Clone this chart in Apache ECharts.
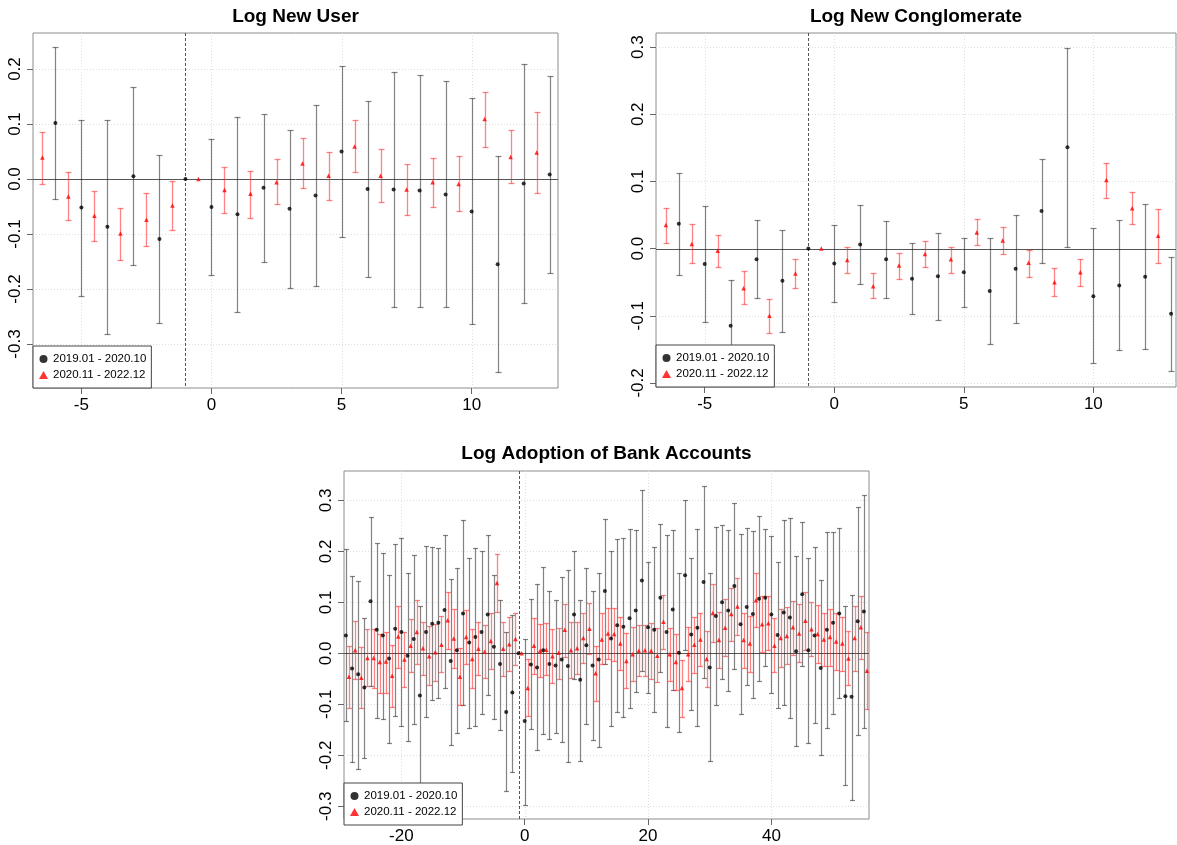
<!DOCTYPE html>
<html>
<head>
<meta charset="utf-8">
<title>Event study estimates</title>
<script src="https://cdn.jsdelivr.net/npm/echarts@6/dist/echarts.min.js"></script>
<style>
  html, body { margin: 0; padding: 0; background: #fff; }
  #chart { width: 1177px; height: 845px; }
</style>
</head>
<body>
<div id="chart"></div>
<script>
// ---- data (estimate, upper and lower CI) ----
var legendNames = ['2019.01 - 2020.10', '2020.11 - 2022.12'];
var refPeriod = -1;

// Log New User
var userBlackPeriods = [-6, -5, -4, -3, -2, -1, 0, 1, 2, 3, 4, 5, 6, 7, 8, 9, 10, 11, 12, 13];
var userBlackEst = [0.102, -0.052, -0.087, 0.005, -0.109, 0, -0.051, -0.064, -0.016, -0.054, -0.030, 0.050, -0.018, -0.019, -0.021, -0.028, -0.059, -0.155, -0.008, 0.008];
var userBlackHi  = [0.240, 0.107, 0.108, 0.167, 0.044, null, 0.073, 0.112, 0.119, 0.090, 0.134, 0.206, 0.141, 0.194, 0.190, 0.178, 0.147, 0.041, 0.210, 0.187];
var userBlackLo  = [-0.036, -0.212, -0.282, -0.157, -0.262, null, -0.175, -0.242, -0.151, -0.198, -0.194, -0.106, -0.178, -0.233, -0.232, -0.233, -0.264, -0.350, -0.226, -0.170];
var userRedPeriods = [-7, -6, -5, -4, -3, -2, -1, 0, 1, 2, 3, 4, 5, 6, 7, 8, 9, 10, 11, 12];
var userRedEst = [0.039, -0.032, -0.067, -0.099, -0.074, -0.048, 0, -0.020, -0.027, -0.006, 0.028, 0.006, 0.059, 0.006, -0.019, -0.006, -0.009, 0.109, 0.040, 0.048];
var userRedHi  = [0.086, 0.012, -0.021, -0.052, -0.026, -0.004, null, 0.021, 0.015, 0.036, 0.074, 0.050, 0.107, 0.054, 0.027, 0.039, 0.041, 0.158, 0.089, 0.122];
var userRedLo  = [-0.009, -0.075, -0.112, -0.147, -0.121, -0.092, null, -0.061, -0.070, -0.046, -0.017, -0.039, 0.012, -0.042, -0.066, -0.050, -0.059, 0.059, -0.008, -0.026];
var userXTicks = [-5, 0, 5, 10];
var userYTicks = [-0.3, -0.2, -0.1, 0, 0.1, 0.2];

// Log New Conglomerate
var congBlackPeriods = [-6, -5, -4, -3, -2, -1, 0, 1, 2, 3, 4, 5, 6, 7, 8, 9, 10, 11, 12, 13];
var congBlackEst = [0.037, -0.023, -0.115, -0.016, -0.048, 0, -0.022, 0.006, -0.016, -0.045, -0.041, -0.035, -0.063, -0.030, 0.056, 0.151, -0.071, -0.055, -0.042, -0.097];
var congBlackHi  = [0.113, 0.064, -0.046, 0.042, 0.027, null, 0.035, 0.065, 0.041, 0.009, 0.024, 0.016, 0.016, 0.050, 0.134, 0.299, 0.030, 0.042, 0.066, -0.013];
var congBlackLo  = [-0.039, -0.109, -0.185, -0.073, -0.124, null, -0.079, -0.053, -0.073, -0.098, -0.106, -0.087, -0.142, -0.110, -0.022, 0.003, -0.171, -0.151, -0.149, -0.182];
var congRedPeriods = [-7, -6, -5, -4, -3, -2, -1, 0, 1, 2, 3, 4, 5, 6, 7, 8, 9, 10, 11, 12];
var congRedEst = [0.035, 0.007, -0.003, -0.059, -0.100, -0.037, 0, -0.017, -0.056, -0.025, -0.008, -0.016, 0.024, 0.012, -0.021, -0.050, -0.035, 0.102, 0.060, 0.019];
var congRedHi  = [0.061, 0.036, 0.021, -0.033, -0.075, -0.016, null, 0.002, -0.037, -0.006, 0.012, 0.003, 0.044, 0.032, -0.002, -0.029, -0.015, 0.128, 0.084, 0.059];
var congRedLo  = [0.009, -0.021, -0.027, -0.083, -0.126, -0.058, null, -0.036, -0.074, -0.045, -0.027, -0.036, 0.005, -0.008, -0.042, -0.070, -0.055, 0.076, 0.036, -0.022];
var congXTicks = [-5, 0, 5, 10];
var congYTicks = [-0.2, -0.1, 0, 0.1, 0.2, 0.3];

// Log Adoption of Bank Accounts
var bankPeriods = [-29, -28, -27, -26, -25, -24, -23, -22, -21, -20, -19, -18, -17, -16, -15, -14, -13, -12, -11, -10,
  -9, -8, -7, -6, -5, -4, -3, -2, -1, 0, 1, 2, 3, 4, 5, 6, 7, 8, 9, 10, 11, 12, 13, 14, 15, 16, 17, 18, 19, 20,
  21, 22, 23, 24, 25, 26, 27, 28, 29, 30, 31, 32, 33, 34, 35, 36, 37, 38, 39, 40, 41, 42, 43, 44, 45, 46, 47, 48, 49, 50,
  51, 52, 53, 54, 55];
var bankBlackEst = [0.035, -0.030, -0.041, -0.067, 0.102, 0.046, 0.035, -0.010, 0.048, 0.042, -0.005, 0.028, -0.083, 0.042, 0.058, 0.060, 0.085, -0.015, 0.006, 0.078,
  0.021, 0.032, 0.042, 0.076, 0.013, -0.021, -0.115, -0.077, 0, -0.133, -0.022, -0.028, 0.006, -0.021, -0.024, -0.012, -0.025, 0.076, -0.052, 0.016,
  -0.024, -0.012, 0.122, 0.029, 0.055, 0.052, 0.069, 0.084, 0.143, 0.051, 0.046, 0.109, 0.042, 0.086, 0.001, 0.153, 0.037, 0.050, 0.140, -0.028,
  0.073, 0.100, 0.084, 0.132, 0.057, 0.091, 0.077, 0.107, 0.109, 0.076, 0.036, 0.080, 0.070, 0.004, 0.116, 0.006, 0.035, -0.029, 0.046, 0.060,
  0.078, -0.084, -0.085, 0.063, 0.082];
var bankBlackHi = [0.204, 0.151, 0.142, 0.070, 0.268, 0.217, 0.197, 0.154, 0.215, 0.226, 0.157, 0.193, 0.093, 0.210, 0.209, 0.206, 0.233, 0.145, 0.167, 0.261,
  0.187, 0.206, 0.200, 0.232, 0.154, 0.104, 0.041, 0.075, null, 0.029, 0.106, 0.135, 0.170, 0.122, 0.104, 0.150, 0.164, 0.200, 0.104, 0.168,
  0.122, 0.158, 0.264, 0.200, 0.224, 0.226, 0.243, 0.241, 0.320, 0.180, 0.208, 0.253, 0.232, 0.241, 0.157, 0.301, 0.186, 0.243, 0.328, 0.158,
  0.248, 0.251, 0.241, 0.295, 0.234, 0.245, 0.239, 0.270, 0.244, 0.230, 0.179, 0.262, 0.266, 0.190, 0.257, 0.187, 0.208, 0.143, 0.237, 0.237,
  0.245, 0.092, 0.115, 0.287, 0.311];
var bankBlackLo = [-0.133, -0.213, -0.226, -0.205, -0.065, -0.127, -0.129, -0.176, -0.122, -0.142, -0.172, -0.139, -0.259, -0.124, -0.091, -0.087, -0.068, -0.179, -0.156, -0.102,
  -0.147, -0.143, -0.120, -0.082, -0.128, -0.150, -0.271, -0.232, null, -0.297, -0.149, -0.189, -0.158, -0.168, -0.156, -0.174, -0.214, -0.051, -0.212, -0.138,
  -0.170, -0.183, -0.021, -0.143, -0.116, -0.124, -0.107, -0.075, -0.034, -0.077, -0.116, -0.036, -0.145, -0.071, -0.154, 0.006, -0.112, -0.143, -0.048, -0.212,
  -0.101, -0.050, -0.074, -0.030, -0.120, -0.062, -0.087, -0.055, -0.024, -0.078, -0.107, -0.101, -0.127, -0.182, -0.025, -0.175, -0.137, -0.200, -0.147, -0.119,
  -0.088, -0.258, -0.287, -0.160, -0.146];
var bankRedEst = [-0.046, 0.006, -0.048, -0.009, -0.009, -0.017, -0.016, -0.044, 0.033, -0.012, 0.015, 0.042, 0.010, -0.006, 0.002, 0.017, 0.065, 0.029, -0.046, 0.032,
  -0.011, 0.009, 0.003, 0.024, 0.138, 0.009, 0.018, 0.028, 0, -0.068, 0.015, 0.005, 0.007, -0.006, 0.001, 0.046, 0.006, 0.010, 0.030, 0.048,
  -0.039, 0.027, 0.039, 0.038, 0.019, -0.015, -0.002, 0.005, 0.006, 0.005, -0.005, 0.062, -0.002, -0.017, -0.068, -0.002, 0.017, 0.027, -0.011, 0.079,
  0.026, 0.050, 0.077, 0.092, 0.026, 0.019, 0.104, 0.057, 0.059, 0.015, 0.030, 0.034, 0.051, 0.039, 0.064, 0.047, 0.038, 0.027, 0.032, 0.023,
  0.019, -0.010, 0.030, 0.051, -0.034];
var bankRedHi = [0.015, 0.064, 0.012, 0.048, 0.047, 0.038, 0.042, 0.017, 0.092, 0.042, 0.068, 0.105, 0.062, 0.053, 0.057, 0.073, 0.120, 0.086, 0.010, 0.084,
  0.048, 0.061, 0.055, 0.079, 0.194, 0.062, 0.071, 0.079, null, -0.012, 0.069, 0.057, 0.059, 0.048, 0.050, 0.096, 0.061, 0.061, 0.079, 0.098,
  0.015, 0.080, 0.089, 0.089, 0.071, 0.039, 0.052, 0.056, 0.056, 0.060, 0.049, 0.115, 0.050, 0.037, -0.014, 0.052, 0.071, 0.080, 0.044, 0.136,
  0.082, 0.106, 0.129, 0.148, 0.079, 0.074, 0.158, 0.113, 0.112, 0.069, 0.087, 0.091, 0.103, 0.097, 0.120, 0.100, 0.094, 0.080, 0.086, 0.079,
  0.072, 0.044, 0.093, 0.112, 0.042];
var bankRedLo = [-0.107, -0.050, -0.107, -0.064, -0.068, -0.077, -0.077, -0.106, -0.028, -0.067, -0.036, -0.021, -0.043, -0.062, -0.054, -0.037, 0.009, -0.028, -0.102, -0.020,
  -0.068, -0.043, -0.049, -0.030, 0.081, -0.044, -0.034, -0.023, null, -0.123, -0.040, -0.047, -0.043, -0.059, -0.050, -0.007, -0.048, -0.041, -0.019, -0.002,
  -0.093, -0.021, -0.012, -0.015, -0.032, -0.068, -0.055, -0.044, -0.044, -0.050, -0.057, 0.008, -0.054, -0.072, -0.124, -0.054, -0.039, -0.024, -0.066, 0.022,
  -0.029, -0.005, 0.025, 0.035, -0.028, -0.037, 0.051, 0.003, 0.007, -0.037, -0.026, -0.021, -0.004, -0.018, 0.007, -0.006, -0.019, -0.024, -0.025, -0.033,
  -0.035, -0.063, -0.034, -0.012, -0.110];
var bankXTicks = [-20, 0, 20, 40];
var bankYTicks = [-0.3, -0.2, -0.1, 0, 0.1, 0.2, 0.3];

// ---- layout / style ----
var FONT = '"Liberation Sans", Arial, sans-serif';
var DODGE = 0.5;           // red group drawn half a period to the right
var BLACK_BAR = 'rgba(30,30,30,0.55)';
var RED_BAR = 'rgba(255,30,30,0.55)';

var panels = [
  { title: 'Log New User', grid: { left: 33, top: 33, width: 525, height: 355 },
    x: [-6.86, 13.32], y: [-0.38, 0.2655], xTicks: userXTicks, yTicks: userYTicks,
    black: [userBlackPeriods, userBlackEst, userBlackLo, userBlackHi],
    red: [userRedPeriods, userRedEst, userRedLo, userRedHi], titleY: 17 },
  { title: 'Log New Conglomerate', grid: { left: 656, top: 33, width: 520, height: 354 },
    x: [-6.88, 13.19], y: [-0.206, 0.321], xTicks: congXTicks, yTicks: congYTicks,
    black: [congBlackPeriods, congBlackEst, congBlackLo, congBlackHi],
    red: [congRedPeriods, congRedEst, congRedLo, congRedHi], titleY: 17 },
  { title: 'Log Adoption of Bank Accounts', grid: { left: 344, top: 471, width: 525, height: 354 },
    x: [-29.3, 55.83], y: [-0.325, 0.3576], xTicks: bankXTicks, yTicks: bankYTicks,
    black: [bankPeriods, bankBlackEst, bankBlackLo, bankBlackHi],
    red: [bankPeriods, bankRedEst, bankRedLo, bankRedHi], titleY: 454 }
];

function ciData(cols, shift) {
  var out = [];
  for (var i = 0; i < cols[0].length; i++) {
    if (cols[2][i] == null || cols[3][i] == null) continue;
    out.push([cols[0][i] + shift, cols[2][i], cols[3][i]]);
  }
  return out;
}
function pointData(cols, shift) {
  return cols[0].map(function (p, i) { return [p + shift, cols[1][i]]; });
}

function barRenderer(color, cap, width) {
  return function (params, api) {
    var x = api.value(0);
    var top = api.coord([x, api.value(2)]);
    var bot = api.coord([x, api.value(1)]);
    var px = Math.round(top[0]) + 0.5;
    var st = { stroke: color, lineWidth: width, fill: null };
    var ty = Math.round(top[1]) + 0.5, by = Math.round(bot[1]) + 0.5;
    return { type: 'group', children: [
      { type: 'line', shape: { x1: px, y1: ty, x2: px, y2: by }, style: st },
      { type: 'line', shape: { x1: px - cap, y1: ty, x2: px + cap, y2: ty }, style: st },
      { type: 'line', shape: { x1: px - cap, y1: by, x2: px + cap, y2: by }, style: st }
    ] };
  };
}
// full-height / full-width lines (grid, zero line, reference period)
function vLine(color, dash) {
  return function (params, api) {
    var cs = params.coordSys;
    var px = Math.round(api.coord([api.value(0), api.value(1)])[0]) + 0.5;
    return { type: 'line', shape: { x1: px, y1: cs.y, x2: px, y2: cs.y + cs.height },
      style: { stroke: color, lineWidth: 1, lineDash: dash } };
  };
}
function hLine(color, dash) {
  return function (params, api) {
    var cs = params.coordSys;
    var py = Math.round(api.coord([api.value(0), api.value(1)])[1]) + 0.5;
    return { type: 'line', shape: { x1: cs.x, y1: py, x2: cs.x + cs.width, y2: py },
      style: { stroke: color, lineWidth: 1, lineDash: dash } };
  };
}

var option = {
  backgroundColor: '#fff',
  animation: false,
  textStyle: { fontFamily: FONT },
  grid: [], xAxis: [], yAxis: [], series: [], legend: [], graphic: []
};

panels.forEach(function (p, k) {
  option.grid.push(Object.assign({ show: true, borderColor: '#8c8c8c', borderWidth: 1, backgroundColor: '#fff' }, p.grid));
  option.xAxis.push({
    gridIndex: k, type: 'value', min: p.x[0], max: p.x[1], position: 'bottom',
    axisLine: { show: false, onZero: false },
    axisTick: { show: true, inside: false, length: 6, customValues: p.xTicks, lineStyle: { color: '#666' } },
    axisLabel: { customValues: p.xTicks, fontSize: 17, color: '#000', margin: 9, fontFamily: FONT },
    splitLine: { show: false }
  });
  option.yAxis.push({
    gridIndex: k, type: 'value', min: p.y[0], max: p.y[1], position: 'left',
    axisLine: { show: false, onZero: false },
    axisTick: { show: true, inside: false, length: 6, customValues: p.yTicks, lineStyle: { color: '#666' } },
    axisLabel: { customValues: p.yTicks, fontSize: 17, color: '#000', margin: 9, rotate: 90, fontFamily: FONT,
      formatter: function (v) { return v.toFixed(1); } },
    splitLine: { show: false }
  });
  var base = { xAxisIndex: k, yAxisIndex: k, silent: true };
  option.series.push(Object.assign({ type: 'custom', name: 'gx' + k, z: 1, renderItem: vLine('#dedede', [1, 2]),
    data: p.xTicks.map(function (v) { return [v, 0]; }), encode: { x: 0, y: 1 } }, base));
  option.series.push(Object.assign({ type: 'custom', name: 'gy' + k, z: 1, renderItem: hLine('#dedede', [1, 2]),
    data: p.yTicks.map(function (v) { return [p.xTicks[0], v]; }), encode: { x: 0, y: 1 } }, base));
  option.series.push(Object.assign({ type: 'custom', name: 'zero' + k, z: 2, renderItem: hLine('#555', null),
    data: [[p.xTicks[0], 0]], encode: { x: 0, y: 1 } }, base));
  option.series.push(Object.assign({ type: 'custom', name: 'ref' + k, z: 2, renderItem: vLine('#555', [3, 2]),
    data: [[refPeriod, 0]], encode: { x: 0, y: 1 } }, base));
  option.series.push(Object.assign({ type: 'custom', name: 'ciB' + k, z: 3, clip: true, renderItem: barRenderer(BLACK_BAR, k === 2 ? 2.5 : 3, 1.2),
    data: ciData(p.black, 0), encode: { x: 0, y: [1, 2] } }, base));
  option.series.push(Object.assign({ type: 'custom', name: 'ciR' + k, z: 3, clip: true, renderItem: barRenderer(RED_BAR, k === 2 ? 2.5 : 3, 1.3),
    data: ciData(p.red, DODGE), encode: { x: 0, y: [1, 2] } }, base));
  option.series.push(Object.assign({ type: 'scatter', name: legendNames[0], z: 4, symbol: 'circle', symbolSize: 4,
    itemStyle: { color: '#000' }, data: pointData(p.black, 0) }, base));
  option.series.push(Object.assign({ type: 'scatter', name: legendNames[1], z: 4, symbol: 'triangle', symbolSize: 4.5,
    itemStyle: { color: '#ff0000' }, data: pointData(p.red, DODGE) }, base));

  option.legend.push({
    left: p.grid.left, top: p.grid.top + p.grid.height - 42, orient: 'vertical', z: 10,
    selectedMode: false, backgroundColor: '#fff', borderColor: '#444', borderWidth: 1, borderRadius: 0,
    padding: [6, 5, 6, 6], itemGap: 2, itemWidth: 9, itemHeight: 8,
    textStyle: { fontSize: 11.5, color: '#000', lineHeight: 14, fontFamily: FONT },
    data: [{ name: legendNames[0], icon: 'circle' }, { name: legendNames[1], icon: 'triangle' }]
  });
  option.graphic.push({
    type: 'text', x: p.grid.left + p.grid.width / 2, y: p.titleY, silent: true,
    style: { text: p.title, font: 'bold 19px ' + FONT, fill: '#000',
      textAlign: 'center', textVerticalAlign: 'middle', align: 'center', verticalAlign: 'middle' }
  });
});

var chart = echarts.init(document.getElementById('chart'), null, { renderer: 'canvas' });
chart.setOption(option);
</script>
</body>
</html>
